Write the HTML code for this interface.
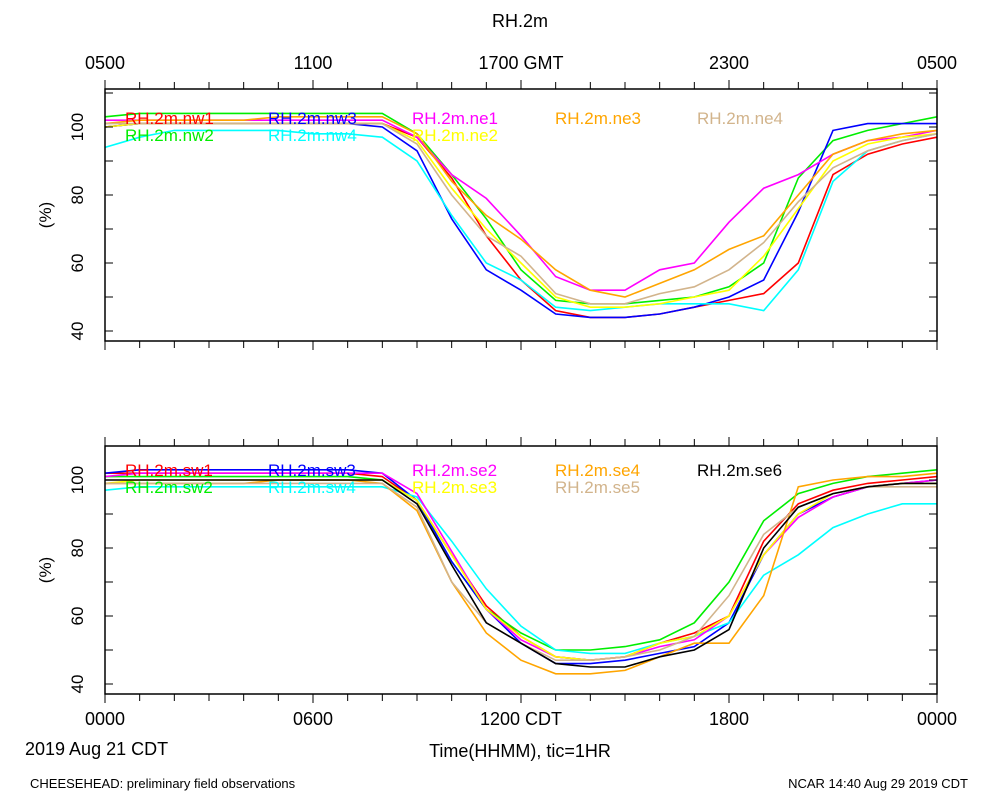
<!DOCTYPE html>
<html><head><meta charset="utf-8"><style>
body{margin:0;background:#fff}
svg{display:block;font-family:"Liberation Sans",sans-serif}
</style></head><body>
<svg id="c" width="1000" height="800" viewBox="0 0 1000 800"></svg>
<script>
const hours=[0,1,2,3,4,5,6,7,8,9,10,11,12,13,14,15,16,17,18,19,20,21,22,23,24];
const topNames=["RH.2m.nw1","RH.2m.nw2","RH.2m.nw3","RH.2m.nw4","RH.2m.ne1","RH.2m.ne2","RH.2m.ne3","RH.2m.ne4"];
const topColors=["#ff0000","#00ee00","#0000ff","#00ffff","#ff00ff","#ffff00","#ffa500","#d2b48c"];
const nw1=[100,101,101,101,101,101,101,101,101,97,85,68,55,46,44,44,45,47,49,51,60,86,92,95,97];
const nw2=[103,104,104,104,104,104,104,104,104,98,86,73,58,49,48,48,49,50,53,60,85,96,99,101,103];
const nw3=[100,101,101,101,101,101,101,101,100,93,73,58,52,45,44,44,45,47,50,55,75,99,101,101,101];
const nw4=[94,97,99,99,99,99,98,98,97,90,74,60,55,47,46,47,48,48,48,46,58,84,93,96,98];
const ne1=[102,102,102,102,102,102,102,102,102,97,86,79,68,56,52,52,58,60,72,82,86,92,96,97,99];
const ne2=[100,101,101,101,101,101,101,101,101,96,82,70,60,50,47,47,48,50,52,62,76,90,95,97,98];
const ne3=[101,102,102,102,102,103,103,103,103,98,84,74,67,58,52,50,54,58,64,68,80,92,96,98,99];
const ne4=[101,101,101,101,101,101,101,101,101,95,80,68,62,51,48,48,51,53,58,66,78,88,93,96,98];
const botNames=["RH.2m.sw1","RH.2m.sw2","RH.2m.sw3","RH.2m.sw4","RH.2m.se2","RH.2m.se3","RH.2m.se4","RH.2m.se5","RH.2m.se6"];
const botColors=["#ff0000","#00ee00","#0000ff","#00ffff","#ff00ff","#ffff00","#ffa500","#d2b48c","#000000"];
const sw1=[102,102,102,102,102,102,102,102,101,94,78,63,54,48,47,48,52,55,60,82,93,97,99,100,101];
const sw2=[101,101,101,101,101,101,101,101,100,94,76,62,55,50,50,51,53,58,70,88,96,99,101,102,103];
const sw3=[102,103,103,103,103,103,103,103,102,94,76,62,52,46,46,47,49,51,58,78,90,95,98,99,100];
const sw4=[97,98,98,98,98,98,98,98,98,95,82,68,57,50,49,49,52,54,58,72,78,86,90,93,93];
const se2=[101,102,102,102,102,102,102,102,102,96,79,62,53,48,47,48,51,53,60,78,89,95,98,99,100];
const se3=[99,100,100,100,100,100,100,100,100,94,78,62,54,48,47,48,52,54,60,78,90,96,98,99,99];
const se4=[99,99,99,99,99,100,100,100,99,91,70,55,47,43,43,44,48,52,52,66,98,100,101,101,102];
const se5=[99,99,99,99,99,99,99,99,99,92,70,58,52,47,47,48,50,54,66,84,92,96,98,98,98];
const se6=[100,100,100,100,100,100,100,100,100,93,75,58,52,46,45,45,48,50,56,80,92,96,98,99,99];
const topSeries=[nw1,nw2,nw3,nw4,ne1,ne2,ne3,ne4];
const botSeries=[sw1,sw2,sw3,sw4,se2,se3,se4,se5,se6];
const yTicks=[40,60,80,100];
const topTickLabels=["0500","1100","1700 GMT","2300","0500"];
const botTickLabels=["0000","0600","1200 CDT","1800","0000"];

const svg=document.getElementById('c');
const NS="http://www.w3.org/2000/svg";
function mk(tag,attrs,parent){const e=document.createElementNS(NS,tag);for(const k in attrs)e.setAttribute(k,attrs[k]);(parent||svg).appendChild(e);return e;}
const X0=105,X1=937;
function xs(h){return X0+(X1-X0)*h/24;}
function panel(top,bottom,y100,series,colors,names,leg,pname){
  const g=mk('g',{});
  
  
  const ys=v=>y100+(100-v)*3.4;
  series.forEach((s,i)=>{
    const d=s.map((v,j)=>(j?'L':'M')+xs(hours[j]).toFixed(1)+' '+ys(v).toFixed(1)).join(' ');
    const p=mk('path',{d:d,fill:'none',stroke:colors[i],'stroke-width':1.6},g);
    
    
  });
  const fr=mk('rect',{x:X0,y:top,width:X1-X0,height:bottom-top,fill:'none',stroke:'#000','stroke-width':1.5},g);
  
  
  for(let h=0;h<=24;h++){const x=xs(h);const L=(h%6==0)?9:7;
    mk('line',{x1:x,x2:x,y1:top,y2:top-L,stroke:'#000'},g);
    mk('line',{x1:x,x2:x,y1:bottom,y2:bottom+L,stroke:'#000'},g);}
  for(let v=40;v<=110;v+=10){const y=ys(v);if(y<top||y>bottom)continue;
    mk('line',{x1:X0,x2:X0+8,y1:y,y2:y,stroke:'#000'},g);
    mk('line',{x1:X1,x2:X1-8,y1:y,y2:y,stroke:'#000'},g);}
  yTicks.forEach(v=>{const y=ys(v);
    const t=mk('text',{x:0,y:0,transform:`translate(83,${y}) rotate(-90)`,'text-anchor':'middle','font-size':17},g);
    t.textContent=v;
    
    });
  const yt=mk('text',{transform:`translate(51,${(top+bottom)/2}) rotate(-90)`,'text-anchor':'middle','font-size':17},g);
  yt.textContent='(%)';
  
  
  names.forEach((n,i)=>{const t=mk('text',{x:leg[i][0],y:leg[i][1],fill:colors[i],'font-size':17},g);
    t.textContent=n;
    
    });
}
panel(89,341,127,topSeries,topColors,topNames,
 [[125,124],[125,141],[268,124],[268,141],[412,124],[412,141],[555,124],[697,124]],'top-panel');
panel(446,694,480,botSeries,botColors,botNames,
 [[125,476],[125,493],[268,476],[268,493],[412,476],[412,493],[555,476],[555,493],[697,476]],'bottom-panel');
function txt(x,y,s,size,anchor,name){const t=mk('text',{x:x,y:y,'font-size':size,'text-anchor':anchor||'start'});t.textContent=s;
  
  return t;}
txt(520,27,'RH.2m',18,'middle','chart-title');
topTickLabels.forEach((s,i)=>txt(xs(i*6),69,s,18,'middle','top-x-tick-label'));
botTickLabels.forEach((s,i)=>txt(xs(i*6),725,s,18,'middle','bottom-x-tick-label'));
txt(25,755,'2019 Aug 21 CDT',18,'start','date-label');
txt(520,757,'Time(HHMM), tic=1HR',18,'middle','x-axis-title');
txt(30,788,'CHEESEHEAD: preliminary field observations',13,'start','footer-left');
txt(968,788,'NCAR 14:40 Aug 29 2019 CDT',13,'end','footer-right');
</script>
</body></html>
